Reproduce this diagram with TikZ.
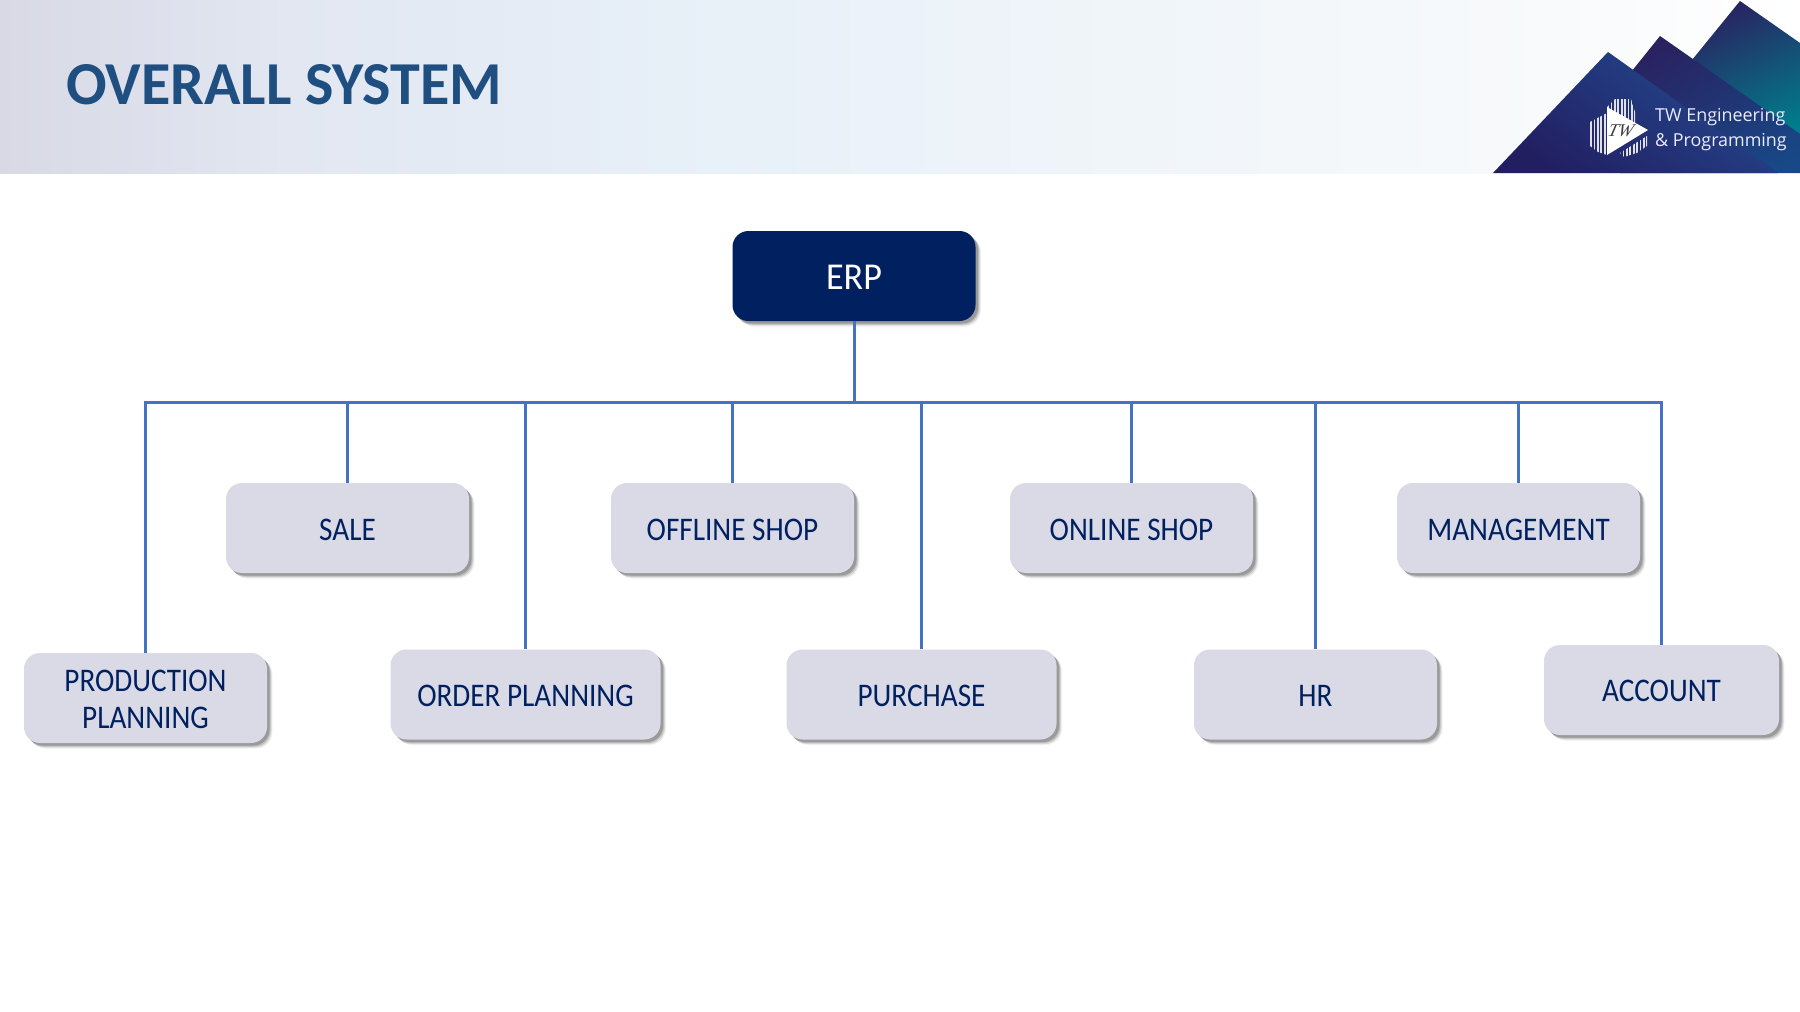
\documentclass[tikz,border=0pt]{standalone}
\usepackage{fontspec}
\setmainfont{Carlito}
\newfontfamily\logofont{Open Sans}
\newfontfamily\unitfont[FakeStretch=0.885]{Carlito}
\newfontfamily\erpfont[FakeStretch=0.95]{Carlito}
\newfontfamily\headfont[FakeStretch=0.985]{Carlito}
\newfontfamily\twfont{Liberation Serif}
\usetikzlibrary{shadows}
\definecolor{navy}{HTML}{002060}
\definecolor{boxfill}{HTML}{D9DAE5}
\definecolor{wire}{HTML}{4472C4}
\definecolor{titleblue}{HTML}{1F4E80}
\definecolor{hA}{HTML}{D8D9E5}
\definecolor{hB}{HTML}{E2E7F2}
\definecolor{hC}{HTML}{E8F0F8}
\definecolor{hD}{HTML}{F8FAFB}
\definecolor{mtnavy}{RGB}{42,33,96}
\definecolor{mtteal}{RGB}{0,125,140}
\definecolor{mtmidend}{RGB}{24,72,135}
\definecolor{mtfront}{RGB}{36,74,145}
\definecolor{mtdark}{RGB}{34,30,96}
\pgfdeclarehorizontalshading{hdrshade}{100bp}{color(0bp)=(hA); color(25bp)=(hA); color(33bp)=(hB); color(45bp)=(hC); color(68bp)=(hD); color(75bp)=(white); color(100bp)=(white)}
\newcommand\lift{\rule{0pt}{24pt}}
\newcommand\liftmore{\rule{0pt}{26pt}}
\tikzset{
  softshadow/.style={
    general shadow={shadow xshift=5.5pt,shadow yshift=-5.5pt,fill=black,opacity=.05},
    general shadow={shadow xshift=4.5pt,shadow yshift=-4.5pt,fill=black,opacity=.10},
    general shadow={shadow xshift=3.5pt,shadow yshift=-3.5pt,fill=black,opacity=.13},
    general shadow={shadow xshift=2.5pt,shadow yshift=-2.5pt,fill=black,opacity=.18}},
  erpbox/.style={fill=navy,text=white,rounded corners=16pt,minimum width=243pt,minimum height=90pt,font=\erpfont\fontsize{38}{40}\selectfont,inner sep=0pt,softshadow},
  unit/.style={fill=boxfill,text=navy,rounded corners=16pt,minimum height=90pt,font=\unitfont\fontsize{33}{37}\selectfont,align=center,inner sep=0pt,softshadow},
  wirepath/.style={draw=wire,line width=3pt},
  logostripe/.style={draw=white!88!black,line width=1.8pt}
}
\begin{document}
\begin{tikzpicture}[x=1pt,y=-1pt]
\useasboundingbox (0,0) rectangle (1800,1012);
\fill[white] (0,0) rectangle (1800,1012);
% header
\shade[shading=hdrshade] (0,0) rectangle (1800,173);
\node[anchor=west,text=titleblue,font=\headfont\fontsize{61}{61}\selectfont\bfseries,inner sep=0pt] (title) at (66,84.5) {OVERALL SYSTEM};
% mountains
\begin{scope}
\clip (1740,1) -- (1800,43) -- (1800,173) -- (1600,173) -- cycle;
\shade[top color=mtnavy,middle color=mtnavy!75!mtteal,bottom color=mtteal,shading angle=25] (1680,0) rectangle (1830,135);
\end{scope}
\begin{scope}
\clip (1660,36) -- (1800,134) -- (1800,173) -- (1550,173) -- cycle;
\shade[top color=mtnavy,bottom color=mtmidend,shading angle=30] (1620,30) rectangle (1820,180);
\end{scope}
\begin{scope}
\clip (1608,52) -- (1778,173) -- (1493,173) -- cycle;
\shade[top color=mtfront,bottom color=mtdark,shading angle=-35] (1485,50) rectangle (1785,175);
\end{scope}
% logo
\begin{scope}
\clip (1607,107) -- (1615,99) -- (1631,99) -- (1635,112) -- (1635,125) -- (1607,110) -- cycle;
\foreach \i in {0,...,8} {\draw[logostripe] ({1608+\i*3.4},96) -- ({1608+\i*3.4},126);}
\end{scope}
\begin{scope}
\clip (1590,122) -- (1607,113) -- (1607,155) -- (1598,152) -- (1590,146) -- cycle;
\foreach \i in {0,...,5} {\draw[logostripe] ({1591+\i*3.4},112) -- ({1591+\i*3.4},156);}
\end{scope}
\begin{scope}
\clip (1620,153) -- (1647,136) -- (1647,146) -- (1637,153) -- (1624,157) -- cycle;
\foreach \i in {0,...,8} {\draw[logostripe] ({1620+\i*3.4},132) -- ({1620+\i*3.4},158);}
\end{scope}
\fill[white] (1607,107) -- (1648,130) -- (1607,155) -- cycle;
\node[text=black!75,font=\twfont\fontsize{18}{18}\selectfont\itshape,inner sep=0pt,xslant=0.25] (logotw) at (1621,131) {TW};
\node[anchor=west,text=white!92!blue,font=\logofont\fontsize{17.9}{18}\selectfont,inner sep=0pt] (brand1) at (1655,117) {TW Engineering};
\node[anchor=west,text=white!92!blue,font=\logofont\fontsize{17.9}{18}\selectfont,inner sep=0pt] (brand2) at (1655,142) {\& Programming};
% nodes
\coordinate (bus) at (854.5,402.5);
\node[unit,minimum width=243pt] (sale) at (347.5,528) {\liftmore SALE};
\node[unit,minimum width=243pt] (offline) at (732.5,528) {\liftmore OFFLINE SHOP};
\node[unit,minimum width=243pt] (online) at (1131.5,528) {\liftmore ONLINE SHOP};
\node[unit,minimum width=243pt] (mgmt) at (1518.5,528) {\liftmore MANAGEMENT};
\node[unit,minimum width=243pt] (prod) at (145.5,698) {\lift PRODUCTION\\PLANNING};
\node[unit,minimum width=270pt] (order) at (525.5,694.5) {\lift ORDER PLANNING};
\node[unit,minimum width=270pt] (purchase) at (921.5,694.5) {\lift PURCHASE};
\node[unit,minimum width=243pt] (hr) at (1315.5,694.5) {\lift HR};
\node[unit,minimum width=235pt] (account) at (1661.5,690) {\lift ACCOUNT};
\node[erpbox] (erp) at (854,276) {\liftmore ERP};
% connectors
\foreach \n in {prod,sale,order,offline,purchase,online,hr,mgmt,account}
  \draw[wirepath] (erp.south) -- (erp.south |- bus) -| (\n.north);
\end{tikzpicture}
\end{document}
